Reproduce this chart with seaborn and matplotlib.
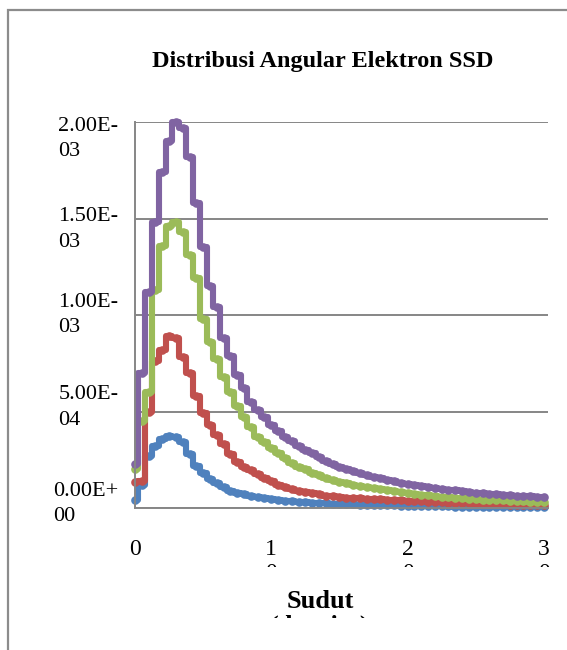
import matplotlib
matplotlib.use("Agg")
import matplotlib.pyplot as plt
import matplotlib.transforms as mtransforms
from matplotlib.patches import Rectangle
import seaborn as sns
import numpy as np

# angle grid (degrees) and four curves, values in units of 1e-3
angles = np.arange(0, 30.5, 0.5)

blue_e3 = [0.04, 0.12, 0.27, 0.32, 0.36, 0.375, 0.37, 0.34, 0.28, 0.22,
           0.18, 0.15, 0.13, 0.11, 0.09, 0.08, 0.07, 0.062, 0.056, 0.05,
           0.045, 0.041, 0.037, 0.034, 0.031, 0.029, 0.027, 0.025, 0.024, 0.022,
           0.021, 0.020, 0.019, 0.018, 0.017, 0.016, 0.015, 0.014, 0.013, 0.012,
           0.011, 0.011, 0.010, 0.009, 0.009, 0.008, 0.008, 0.007, 0.007, 0.007,
           0.006, 0.006, 0.006, 0.005, 0.005, 0.005, 0.005, 0.004, 0.004, 0.004,
           0.004]
red_e3 = [0.135, 0.14, 0.50, 0.76, 0.82, 0.89, 0.88, 0.78, 0.70, 0.58,
          0.49, 0.43, 0.38, 0.33, 0.28, 0.24, 0.21, 0.195, 0.175, 0.155,
          0.14, 0.12, 0.11, 0.098, 0.09, 0.083, 0.077, 0.071, 0.064, 0.060,
          0.057, 0.054, 0.052, 0.050, 0.048, 0.046, 0.045, 0.043, 0.042, 0.040,
          0.038, 0.036, 0.034, 0.032, 0.030, 0.029, 0.028, 0.026, 0.025, 0.024,
          0.023, 0.022, 0.021, 0.020, 0.019, 0.018, 0.017, 0.016, 0.015, 0.014,
          0.013]
green_e3 = [0.20, 0.45, 0.60, 1.13, 1.36, 1.46, 1.48, 1.43, 1.31, 1.19,
            0.98, 0.86, 0.77, 0.68, 0.60, 0.53, 0.47, 0.42, 0.37, 0.34,
            0.31, 0.285, 0.26, 0.235, 0.215, 0.20, 0.18, 0.17, 0.158, 0.147,
            0.137, 0.128, 0.12, 0.114, 0.108, 0.102, 0.096, 0.091, 0.086, 0.081,
            0.077, 0.073, 0.069, 0.066, 0.062, 0.059, 0.056, 0.053, 0.051, 0.048,
            0.046, 0.044, 0.043, 0.041, 0.039, 0.038, 0.036, 0.035, 0.033, 0.032,
            0.031]
purple_e3 = [0.23, 0.70, 1.12, 1.48, 1.74, 1.90, 2.00, 1.97, 1.82, 1.58,
             1.35, 1.15, 1.04, 0.88, 0.79, 0.69, 0.62, 0.55, 0.51, 0.47,
             0.43, 0.40, 0.37, 0.345, 0.32, 0.30, 0.285, 0.265, 0.245, 0.23,
             0.215, 0.20, 0.19, 0.18, 0.17, 0.16, 0.153, 0.145, 0.138, 0.131,
             0.125, 0.119, 0.113, 0.108, 0.103, 0.099, 0.095, 0.091, 0.087, 0.084,
             0.080, 0.077, 0.074, 0.071, 0.069, 0.066, 0.064, 0.062, 0.060, 0.058,
             0.056]

series = [blue_e3, red_e3, green_e3, purple_e3]
colors = ["#4F81BD", "#C0504D", "#9BBB59", "#8064A2"]

y_ticks = [0, 0.5e-3, 1.0e-3, 1.5e-3, 2.0e-3]
y_labels = ["0.00E+\n00", "5.00E-\n04", "1.00E-\n03", "1.50E-\n03", "2.00E-\n03"]
x_ticks = [0, 10, 20, 30]
x_labels = ["0", "1\n0", "2\n0", "3\n0"]

sns.set_theme(style="white")
plt.rcParams["font.family"] = ["Liberation Serif", "DejaVu Serif"]

W, H = 567, 650
fig = plt.figure(figsize=(W / 100, H / 100), dpi=100)
fig.patch.set_facecolor("white")

# outer chart frame (only top/left edges inside the crop)
frame = Rectangle((8 / W, -0.2), 1.3, (1 - 10 / H) + 0.2, transform=fig.transFigure,
                  fill=False, edgecolor="#8c8c8c", linewidth=1.6)
fig.add_artist(frame)

ax = fig.add_axes([135 / W, 1 - 508 / H, (548 - 135) / W, (508 - 122) / H])

for vals, color in zip(series, colors):
    sns.lineplot(x=angles, y=np.array(vals) * 1e-3, ax=ax, color=color,
                 drawstyle="steps-mid", marker="o", markersize=6.2,
                 markeredgewidth=0, linewidth=4.4, solid_joinstyle="round",
                 clip_on=False, sort=False, estimator=None, legend=False)

ax.set_xlim(0, 30.3)
ax.set_ylim(0, 2.0e-3)
ax.set_yticks(y_ticks)
ax.set_yticklabels(y_labels)
ax.set_xticks(x_ticks)
ax.set_xticklabels(x_labels)

ax.yaxis.grid(True, color="#868686", linewidth=1.4)
ax.xaxis.grid(False)
for side in ["top", "right"]:
    ax.spines[side].set_visible(False)
for side in ["left", "bottom"]:
    ax.spines[side].set_color("#868686")
    ax.spines[side].set_linewidth(1.4)

ax.tick_params(axis="y", length=0, pad=12, labelsize=16, labelcolor="black")
ax.tick_params(axis="x", length=0, pad=22, labelsize=17, labelcolor="black")

# excel places the wrapped y labels a bit unevenly
y_shift_px = [-4, -4, 0, 11, 17]
for lab, dy in zip(ax.get_yticklabels(), y_shift_px):
    lab.set_verticalalignment("center")
    lab.set_multialignment("left")
    lab.set_linespacing(1.45)
    lab.set_transform(lab.get_transform() +
                      mtransforms.ScaledTranslation(0, -dy / 100, fig.dpi_scale_trans))

# second line of the x labels is cut off by the chart area
xclip = mtransforms.TransformedBbox(
    mtransforms.Bbox.from_extents(0, 1 - 566.5 / H, 1, 1), fig.transFigure)
for lab in ax.get_xticklabels():
    lab.set_clip_box(xclip)
    lab.set_clip_on(True)

ax.set_xlabel("Sudut\n(derajat)", fontsize=19, fontweight="bold", color="black",
              linespacing=1.1)
ax.xaxis.set_label_coords((320 - 135) / 413, -(590 - 508) / 386)
ax.xaxis.label.set_verticalalignment("top")
lclip = mtransforms.TransformedBbox(
    mtransforms.Bbox.from_extents(0, 1 - 618 / H, 1, 1), fig.transFigure)
ax.xaxis.label.set_clip_box(lclip)
ax.xaxis.label.set_clip_on(True)
ax.set_ylabel("")

fig.text(322.5 / W, 1 - 62 / H, "Distribusi Angular Elektron SSD",
         ha="center", va="center", fontsize=17.5, fontweight="bold", color="black")

fig.savefig("out.png", dpi=100, facecolor="white")
